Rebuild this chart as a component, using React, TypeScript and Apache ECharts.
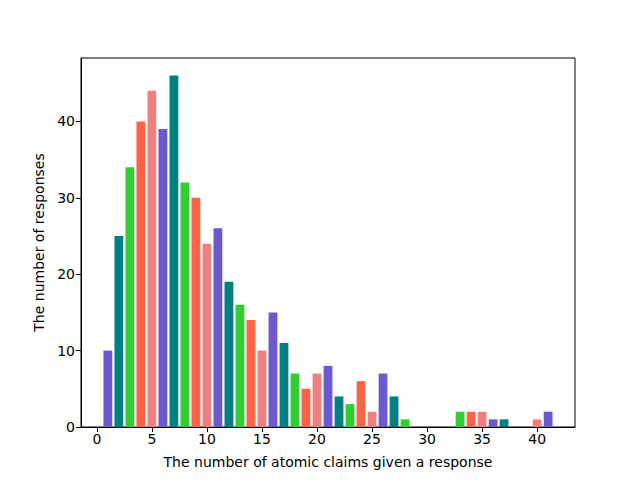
import React, { useEffect, useRef } from "react";
import * as echarts from "echarts";

const claimCounts = [1,2,3,4,5,6,7,8,9,10,11,12,13,14,15,16,17,18,19,20,21,22,23,24,25,26,27,28,33,34,35,36,37,40,41];
const responseCounts = [10,25,34,40,44,39,46,32,30,24,26,19,16,14,10,15,11,7,5,7,8,4,3,6,2,7,4,1,2,2,2,1,1,1,2];
const palette = ["#6a5acd", "#008080", "#32cd32", "#ff6347", "#f08080"];
const xTicks = [0,5,10,15,20,25,30,35,40];
const yTicks = [0,10,20,30,40];

export default function App() {
  const ref = useRef<HTMLDivElement>(null);
  useEffect(() => {
    document.body.style.margin = "0";
    const chart = echarts.init(ref.current!, null, { renderer: "svg" });
    const font = "DejaVu Sans";
    chart.setOption({
      animation: false,
      grid: { left: 81, right: 65, top: 58, bottom: 53, show: true, borderColor: "#000", borderWidth: 1 },
      xAxis: {
        type: "value",
        min: -1.44,
        max: 43.44,
        splitLine: { show: false },
        axisLine: { show: true, onZero: false, lineStyle: { color: "#000" } },
        axisTick: { show: true, inside: false, length: 5, customValues: xTicks, lineStyle: { color: "#000" } },
        axisLabel: { customValues: xTicks, color: "#000", fontFamily: font, fontSize: 14, margin: 5 },
        name: "The number of atomic claims given a response",
        nameLocation: "middle",
        nameGap: 28,
        nameTextStyle: { color: "#000", fontFamily: font, fontSize: 14 },
      },
      yAxis: {
        type: "value",
        min: 0,
        max: 48.3,
        splitLine: { show: false },
        axisLine: { show: true, onZero: false, lineStyle: { color: "#000" } },
        axisTick: { show: true, inside: false, length: 5, customValues: yTicks, lineStyle: { color: "#000" } },
        axisLabel: { customValues: yTicks, color: "#000", fontFamily: font, fontSize: 14, margin: 6 },
        name: "The number of responses",
        nameLocation: "middle",
        nameGap: 35,
        nameTextStyle: { color: "#000", fontFamily: font, fontSize: 14 },
      },
      series: [
        {
          type: "custom",
          data: claimCounts.map((x, i) => [x, responseCounts[i]]),
          renderItem: (params: any, api: any) => {
            const x = api.value(0);
            const y = api.value(1);
            const p0 = api.coord([x - 0.4, y]);
            const p1 = api.coord([x + 0.4, 0]);
            return {
              type: "rect",
              shape: { x: p0[0], y: p0[1], width: p1[0] - p0[0], height: p1[1] - p0[1] },
              style: { fill: palette[(x - 1) % palette.length] },
            };
          },
        },
      ],
    });
    return () => chart.dispose();
  }, []);
  return <div ref={ref} style={{ width: 640, height: 480 }} />;
}
